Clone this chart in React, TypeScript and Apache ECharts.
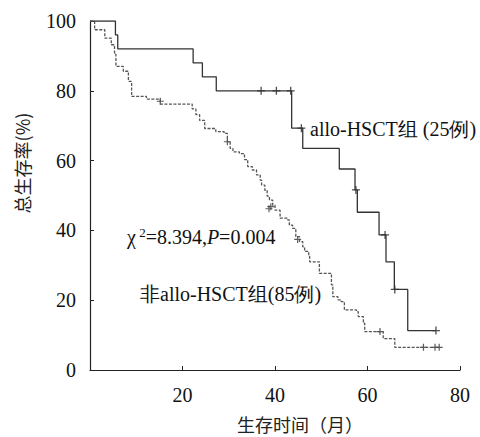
import React, { useEffect, useRef } from "react";
import * as echarts from "echarts";

// allo-HSCT group (solid) – Kaplan–Meier step points [month, survival %]
const alloTimes = [0, 5.5, 6.0, 22.3, 24.3, 27.3, 43.6, 46.0, 53.9, 57.3, 57.8, 62.5, 64.0, 65.8, 68.7, 74.8];
const alloSurv = [100, 96, 92, 88, 84, 80, 69.3, 63.5, 57.6, 51.6, 45.2, 38.7, 31.0, 23.1, 11.3, 11.3];
const alloCensorT = [37.0, 40.3, 43.4, 45.7, 57.5, 63.8, 65.9, 74.8];
const alloCensorS = [80, 80, 80, 69.3, 51.6, 38.7, 23.1, 11.3];

// non-allo-HSCT group (dashed)
const nonTimes = [0, 1.0, 3.2, 4.6, 5.3, 5.6, 7.2, 8.3, 9.0, 12.2, 15.2, 22.1, 22.9, 23.7, 24.8, 27.2, 29.0, 29.7, 30.3, 30.9, 32.3, 33.4, 34.1, 35.1, 36.0, 36.8, 37.1, 37.8, 38.3, 38.8, 39.5, 40.0, 41.1, 42.7, 43.1, 43.8, 44.5, 45.3, 46.0, 46.4, 47.3, 47.5, 49.6, 52.2, 52.5, 53.6, 54.3, 55.0, 57.6, 58.0, 59.1, 59.4, 63.4, 65.9, 75.7];
const nonSurv = [100, 97.5, 95.1, 93.2, 90.5, 87.0, 85.6, 82.7, 78.4, 77.6, 76.2, 74.8, 73.2, 71.5, 69.2, 68.3, 67.8, 65.4, 63.5, 62.5, 62.0, 60.3, 58.3, 57.3, 55.9, 54.4, 53.0, 51.5, 49.8, 48.7, 47.2, 45.8, 43.5, 43.0, 41.5, 40.6, 38.2, 36.8, 35.3, 34.0, 32.5, 31.0, 27.7, 24.4, 21.0, 20.1, 19.6, 17.2, 16.7, 15.3, 13.4, 11.0, 9.0, 6.5, 6.5];
const nonCensorT = [15.2, 29.7, 38.7, 39.1, 44.9, 62.7, 72.1, 74.6, 75.5];
const nonCensorS = [77.0, 65.4, 46.2, 46.8, 37.4, 11.0, 6.5, 6.5, 6.5];

const xTicks = [0, 20, 40, 60, 80];
const yTicks = [0, 20, 40, 60, 80, 100];

const labelAllo = "allo-HSCT组 (25例)";
const labelNon = "非allo-HSCT组(85例)";
const xName = "生存时间（月）";
const yName = "总生存率(%)";

const SERIF = "Liberation Serif";
const CJK = "Noto Sans CJK SC";

const zip = (a: number[], b: number[]) => a.map((v, i) => [v, b[i]]);
const plus = "path://M5,0L5,10M0,5L10,5";

export default function App() {
  const ref = useRef<HTMLDivElement>(null);
  useEffect(() => {
    document.body.style.margin = "0";
    const chart = echarts.init(ref.current!, undefined, { renderer: "svg" });
    chart.setOption({
      animation: false,
      backgroundColor: "#fff",
      grid: { left: 90, right: 20, top: 21, bottom: 67, containLabel: false },
      xAxis: {
        type: "value",
        min: xTicks[0],
        max: xTicks[xTicks.length - 1],
        interval: 20,
        splitLine: { show: false },
        axisLine: { lineStyle: { color: "#222", width: 1.2 } },
        axisTick: { inside: true, length: 4, lineStyle: { color: "#222" } },
        axisLabel: {
          showMinLabel: false,
          color: "#111",
          fontSize: 20,
          fontFamily: SERIF,
          margin: 15,
        },
      },
      yAxis: {
        type: "value",
        min: yTicks[0],
        max: yTicks[yTicks.length - 1],
        interval: 20,
        splitLine: { show: false },
        axisLine: { show: true, lineStyle: { color: "#222", width: 1.2 } },
        axisTick: { show: true, inside: true, length: 4, lineStyle: { color: "#222" } },
        axisLabel: { color: "#111", fontSize: 20, fontFamily: SERIF, margin: 14 },
      },
      series: [
        {
          type: "line",
          step: "end",
          data: zip(alloTimes, alloSurv),
          symbol: "none",
          lineStyle: { color: "#333", width: 1.3 },
        },
        {
          type: "line",
          step: "end",
          data: zip(nonTimes, nonSurv),
          symbol: "none",
          lineStyle: { color: "#555", width: 1.3, type: [3, 1.5] },
        },
        {
          type: "scatter",
          data: zip(alloCensorT, alloCensorS),
          symbol: plus,
          symbolSize: 8,
          itemStyle: { color: "transparent", borderColor: "#222", borderWidth: 1.3 },
        },
        {
          type: "scatter",
          data: zip(nonCensorT, nonCensorS),
          symbol: plus,
          symbolSize: 7,
          itemStyle: { color: "transparent", borderColor: "#333", borderWidth: 1.2 },
        },
      ],
      graphic: [
        {
          type: "text",
          x: 310,
          y: 129,
          style: { text: labelAllo, fontSize: 20, fontFamily: SERIF, fill: "#111", verticalAlign: "middle" },
        },
        {
          type: "text",
          x: 127,
          y: 237,
          style: {
            text: "{a|χ}{s| 2}{a|=8.394,}{i|P}{a|=0.004}",
            verticalAlign: "middle",
            rich: {
              a: { fontSize: 20, fontFamily: SERIF, fill: "#111" },
              s: { fontSize: 13, fontFamily: SERIF, fill: "#111", padding: [0, 0, 9, 0] },
              i: { fontSize: 20, fontFamily: SERIF, fontStyle: "italic", fill: "#111" },
            },
          },
        },
        {
          type: "text",
          x: 140,
          y: 294,
          style: { text: labelNon, fontSize: 20, fontFamily: SERIF, fill: "#111", verticalAlign: "middle" },
        },
        {
          type: "text",
          x: 300,
          y: 424,
          style: { text: xName, fontSize: 18, fontFamily: CJK, fill: "#222", align: "center", verticalAlign: "middle" },
        },
        {
          type: "text",
          x: 22,
          y: 163,
          rotation: Math.PI / 2,
          style: { text: yName, fontSize: 18, fontFamily: CJK, fill: "#222", align: "center", verticalAlign: "middle" },
        },
      ],
    });
    return () => chart.dispose();
  }, []);
  return <div ref={ref} style={{ width: 480, height: 437 }} />;
}
